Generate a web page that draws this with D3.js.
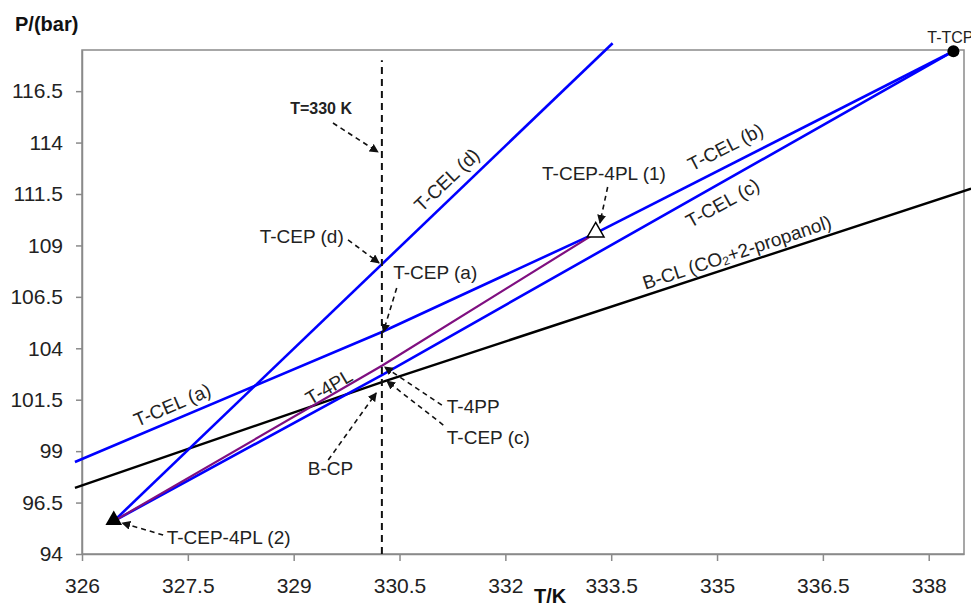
<!DOCTYPE html>
<html>
<head>
<meta charset="utf-8">
<script src="https://cdn.jsdelivr.net/npm/d3@7/dist/d3.min.js"></script>
<style>
  body { margin: 0; background: #fff; }
  svg { font-family: "Liberation Sans", Arial, sans-serif; }
</style>
</head>
<body>
<svg id="chart" width="971" height="604"></svg>
<script>
// tick values
const tempTicks = [326, 327.5, 329, 330.5, 332, 333.5, 335, 336.5, 338];
const presTicks = [94, 96.5, 99, 101.5, 104, 106.5, 109, 111.5, 114, 116.5];

// curves, [T/K, P/bar]
const tcelA = [[325.9, 98.47], [330.25, 104.79], [333.28, 109.6]];
const tcelB = [[333.28, 109.6], [338.35, 118.44]];
const tcelC = [[326.45, 95.6], [330.25, 102.7], [338.35, 118.44]];
const tcelD = [[326.45, 95.6], [333.52, 118.83]];
const t4pl  = [[326.45, 95.6], [330.25, 103.15], [333.28, 109.6]];
const bcl   = [[325.9, 97.21], [330.25, 102.36], [338.6, 111.76]];
const isotherm = [[330.25, 94], [330.25, 118.0]];

// special points
const tcp = [338.35, 118.44];
const cep4pl1 = [333.28, 109.6];
const cep4pl2 = [326.45, 95.6];

const svg = d3.select("#chart");
const x = d3.scaleLinear().domain([326, 338.5]).range([82, 964]);
const y = d3.scaleLinear().domain([94, 118.5]).range([554, 50]);

// frame
svg.append("rect")
  .attr("x", x(326)).attr("y", y(118.5))
  .attr("width", x(338.5) - x(326)).attr("height", y(94) - y(118.5))
  .attr("fill", "none").attr("stroke", "#8a8a8a").attr("stroke-width", 1.5);

// axes
const fmt = d => String(d);
const yAxis = svg.append("g")
  .attr("transform", "translate(" + x(326) + ",0)")
  .call(d3.axisLeft(y).tickValues(presTicks).tickFormat(fmt).tickSize(6).tickSizeOuter(0).tickPadding(13));
const xAxis = svg.append("g")
  .attr("transform", "translate(0," + y(94) + ")")
  .call(d3.axisBottom(x).tickValues(tempTicks).tickFormat(fmt).tickSize(7).tickSizeOuter(0).tickPadding(17));
[xAxis, yAxis].forEach(a => {
  a.select(".domain").attr("stroke", "#8a8a8a").attr("stroke-width", 1.5);
  a.selectAll(".tick line").attr("stroke", "#8a8a8a").attr("stroke-width", 1.5);
  a.selectAll(".tick text").attr("fill", "#222").style("font-size", "21px")
    .style("font-family", '"Liberation Sans", Arial, sans-serif');
});

// axis titles
svg.append("text").attr("x", 15).attr("y", 31).text("P/(bar)")
  .style("font-size", "20px").style("font-weight", "bold").attr("fill", "#111");
svg.append("text").attr("x", 534).attr("y", 603).text("T/K")
  .style("font-size", "20px").style("font-weight", "bold").attr("fill", "#111");

// lines
const line = d3.line().x(d => x(d[0])).y(d => y(d[1]));
const curves = [
  { pts: bcl, color: "#000", w: 2.4 },
  { pts: tcelA, color: "#0000ff", w: 2.6 },
  { pts: tcelB, color: "#0000ff", w: 2.6 },
  { pts: tcelC, color: "#0000ff", w: 2.6 },
  { pts: tcelD, color: "#0000ff", w: 2.6 },
  { pts: t4pl, color: "#7f0f80", w: 2.2 }
];
svg.append("g").selectAll("path")
  .data(curves)
  .enter()
  .append("path")
  .attr("d", d => line(d.pts))
  .attr("fill", "none")
  .attr("stroke", d => d.color)
  .attr("stroke-width", d => d.w);

// T = 330 K isotherm
svg.append("path")
  .attr("d", line(isotherm))
  .attr("fill", "none").attr("stroke", "#111")
  .attr("stroke-width", 2).attr("stroke-dasharray", "7,5");

// arrow marker
svg.append("defs").append("marker")
  .attr("id", "head")
  .attr("viewBox", "0 0 10 10")
  .attr("refX", 9).attr("refY", 5)
  .attr("markerWidth", 9).attr("markerHeight", 9)
  .attr("markerUnits", "userSpaceOnUse")
  .attr("orient", "auto")
  .append("path").attr("d", "M0,0L10,5L0,10z").attr("fill", "#111");

// annotation arrows: [from, to] in data units
const arrows = [
  [[329.557, 114.95], [330.195, 113.54]],
  [[329.77, 109.27], [330.21, 108.15]],
  [[330.46, 106.93], [330.27, 104.79]],
  [[331.10, 101.24], [330.29, 103.09]],
  [[331.12, 100.27], [330.32, 102.41]],
  [[329.49, 98.57], [330.17, 101.83]],
  [[333.45, 111.84], [333.34, 110.09]],
  [[327.15, 94.92], [326.57, 95.51]]
];
svg.append("g").selectAll("line")
  .data(arrows)
  .enter()
  .append("line")
  .attr("x1", d => x(d[0][0])).attr("y1", d => y(d[0][1]))
  .attr("x2", d => x(d[1][0])).attr("y2", d => y(d[1][1]))
  .attr("stroke", "#111").attr("stroke-width", 1.6)
  .attr("stroke-dasharray", "5,4")
  .attr("marker-end", "url(#head)");

// point markers
const tri = d3.symbol().type(d3.symbolTriangle).size(120);
svg.append("path").attr("d", tri)
  .attr("transform", "translate(" + x(cep4pl2[0]) + "," + (y(cep4pl2[1]) - 1) + ")")
  .attr("fill", "#000");
svg.append("path").attr("d", tri)
  .attr("transform", "translate(" + x(cep4pl1[0]) + "," + (y(cep4pl1[1]) - 1) + ")")
  .attr("fill", "#fff").attr("stroke", "#000").attr("stroke-width", 1.5);
svg.append("circle")
  .attr("cx", x(tcp[0])).attr("cy", y(tcp[1])).attr("r", 6)
  .attr("fill", "#000");

// plain labels: [text, T, P, anchor, size, bold]
const labels = [
  ["T=330 K", 328.95, 115.68, "start", 16, true],
  ["T-CEP (d)", 329.71, 109.41, "end", 19, false],
  ["T-CEP (a)", 330.41, 107.66, "start", 19, false],
  ["T-4PP", 331.17, 101.15, "start", 19, false],
  ["T-CEP (c)", 331.17, 99.64, "start", 19, false],
  ["B-CP", 329.20, 98.18, "start", 19, false],
  ["T-CEP-4PL (1)", 332.52, 112.52, "start", 19, false],
  ["T-CEP-4PL (2)", 327.20, 94.78, "start", 19, false],
  ["T-TCP", 337.98, 119.13, "start", 16, false]
];
svg.append("g").selectAll("text")
  .data(labels)
  .enter()
  .append("text")
  .attr("x", d => x(d[1])).attr("y", d => y(d[2]))
  .attr("dominant-baseline", "central")
  .attr("text-anchor", d => d[3])
  .style("font-size", d => d[4] + "px")
  .style("font-weight", d => d[5] ? "bold" : "normal")
  .attr("fill", "#222")
  .text(d => d[0]);

// labels along the curves: [text, T, P, angle]
const curveLabels = [
  ["T-CEL (d)", 331.17, 112.18, -43.5],
  ["T-CEL (a)", 327.28, 101.24, -23],
  ["T-CEL (b)", 335.12, 113.78, -27],
  ["T-CEL (c)", 335.08, 111.06, -29],
  ["T-4PL", 329.50, 102.12, -30.7]
];
svg.append("g").selectAll("text")
  .data(curveLabels)
  .enter()
  .append("text")
  .attr("transform", d => "translate(" + x(d[1]) + "," + y(d[2]) + ") rotate(" + d[3] + ")")
  .attr("dominant-baseline", "central")
  .attr("text-anchor", "middle")
  .style("font-size", "19px")
  .attr("fill", "#222")
  .text(d => d[0]);

// B-CL label with subscript
const bclText = svg.append("text")
  .attr("transform", "translate(" + x(335.28) + "," + y(108.68) + ") rotate(-18.4)")
  .attr("dominant-baseline", "central")
  .attr("text-anchor", "middle")
  .style("font-size", "19px")
  .attr("fill", "#222");
bclText.append("tspan").text("B-CL (CO");
bclText.append("tspan").text("2").style("font-size", "12px").attr("dy", 5);
bclText.append("tspan").text("+2-propanol)").attr("dy", -5);
</script>
</body>
</html>
